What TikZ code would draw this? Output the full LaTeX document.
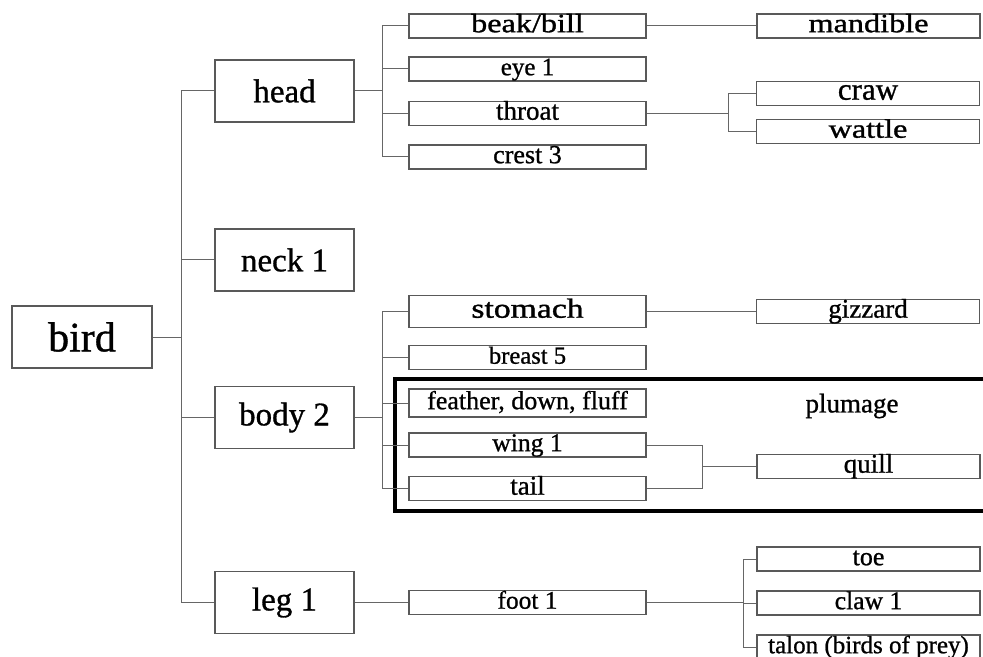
\documentclass[tikz,border=0pt]{standalone}
\usepackage{fontspec}
\setmainfont{Liberation Serif}[FakeBold=0.9]
\newfontfamily\widerm{Liberation Serif}[FakeStretch=1.22, FakeBold=1.2]

\begin{document}
\begin{tikzpicture}[x=0.5pt, y=-0.5pt,
    partbox/.style={draw=black!65, line width=0.6pt, inner sep=0pt, minimum width=69.5pt, minimum height=31pt, font=\fontsize{16.5}{18}\selectfont},
    subbox/.style={draw=black!65, line width=0.6pt, inner sep=0pt, minimum width=118.5pt, minimum height=12pt, text height=0.76em, text depth=0.14em, font=\fontsize{13}{15}\selectfont},
    leafbox/.style={subbox, minimum width=111.5pt},
    widetext/.style={font=\widerm\fontsize{13.2}{15}\selectfont},
    wire/.style={draw=black!60, line width=0.5pt}]
\clip (0,0) rectangle (983,657);
\fill[white] (0,0) rectangle (983,657);

\node[draw=black!65, line width=0.6pt, inner sep=0pt, minimum width=70pt, minimum height=31pt, font=\fontsize{21}{24}\selectfont] (bird) at (82,337) {bird};

\node[partbox] (head) at (284.5,91) {head};
\node[partbox] (neck) at (284.5,260) {neck 1};
\node[partbox] (body) at (284.5,417.5) {body 2};
\node[partbox] (leg)  at (284.5,602.5) {leg 1};

\node[subbox, widetext] (beak) at (527.5,26) {beak/bill};
\node[subbox, font=\fontsize{12.5}{15}\selectfont] (eye) at (527.5,69) {eye 1};
\node[subbox, font=\fontsize{13.5}{15}\selectfont] (throat) at (527.5,113.5) {throat};
\node[subbox] (crest) at (527.5,157) {crest 3};

\node[subbox, minimum height=16pt, font=\widerm\fontsize{13.8}{15}\selectfont] (stomach) at (527.5,311.5) {stomach};
\node[subbox, font=\fontsize{12.3}{15}\selectfont] (breast) at (527.5,357.5) {breast 5};
\node[subbox, minimum height=14pt] (feather) at (527.5,403) {feather, down, fluff};
\node[subbox, font=\fontsize{12.8}{15}\selectfont] (wing) at (527.5,445) {wing 1};
\node[subbox, font=\fontsize{13.5}{15}\selectfont] (tail) at (527.5,488.5) {tail};

\node[subbox, font=\fontsize{12.7}{15}\selectfont] (foot) at (527.5,602.5) {foot 1};

\node[leafbox, widetext] (mandible) at (868.5,26) {mandible};
\node[leafbox, font=\fontsize{15.5}{17}\selectfont] (craw) at (868,93.5) {craw};
\node[leafbox, widetext] (wattle) at (868,131.5) {wattle};
\node[leafbox, font=\fontsize{13.5}{15}\selectfont] (gizzard) at (868,311.5) {gizzard};
\node[leafbox, font=\fontsize{13.5}{15}\selectfont] (quill) at (868.5,466.5) {quill};
\node[leafbox] (toe) at (868.5,559) {toe};
\node[leafbox, font=\fontsize{12.8}{15}\selectfont] (claw) at (868.5,603) {claw 1};
\node[leafbox, font=\fontsize{12.5}{15}\selectfont] (talon) at (868.5,647) {talon (birds of prey)};

\draw[line width=1.6pt] (395,379) rectangle (1000,511);
\node[font=\fontsize{13.5}{15}\selectfont] (plumage) at (852,406) {plumage};

\foreach \p in {head,neck,body,leg}
    \draw[wire] (bird.east) -- ++(29,0) |- (\p.west);
\foreach \p in {beak,eye,throat,crest}
    \draw[wire] (head.east) -- ++(28,0) |- (\p.west);
\foreach \p in {stomach,breast,feather,wing,tail}
    \draw[wire] (body.east) -- ++(28,0) |- (\p.west);
\foreach \p in {craw,wattle}
    \draw[wire] (throat.east) -- ++(82,0) |- (\p.west);
\foreach \p in {toe,claw,talon}
    \draw[wire] (foot.east) -- ++(97,0) |- (\p.west);

\draw[wire] (beak) -- (mandible);
\draw[wire] (stomach) -- (gizzard);
\draw[wire] (leg) -- (foot);
\coordinate (plumefork) at (702,466.5);
\draw[wire] (wing.east) -| (plumefork) -- (quill.west);
\draw[wire] (tail.east) -| (plumefork);
\end{tikzpicture}
\end{document}
